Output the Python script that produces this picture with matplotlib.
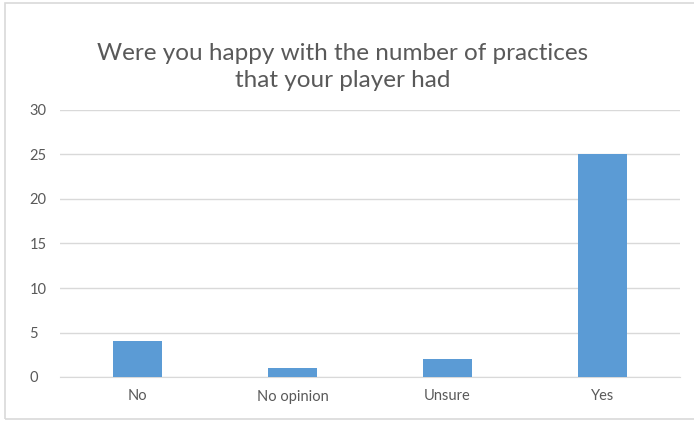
import matplotlib
matplotlib.use("Agg")
import matplotlib.pyplot as plt
from matplotlib.patches import Rectangle

categories = ["No", "No opinion", "Unsure", "Yes"]
counts = [4, 1, 2, 25]
yticks = [0, 5, 10, 15, 20, 25, 30]
title = "Were you happy with the number of practices\nthat your player had"

plt.rcParams['font.family'] = ['Lato', 'DejaVu Sans']

fig = plt.figure(figsize=(6.94, 4.22), dpi=100)
# chart border
fig.patches.append(Rectangle((5 / 694, 3 / 422), 1.0, 416 / 422, transform=fig.transFigure,
                             fill=False, edgecolor="#D9D9D9", linewidth=1.2))

ax = fig.add_axes([60 / 694, 45 / 422, 620 / 694, 267 / 422])
x = range(len(categories))
ax.bar(x, counts, width=0.32, color="#5B9BD5", zorder=3)
ax.set_xlim(-0.5, len(categories) - 0.5)
ax.set_ylim(0, 30)
ax.set_yticks(yticks)
ax.set_xticks(list(x))
ax.set_xticklabels(categories)
ax.grid(axis="y", color="#D9D9D9", linewidth=1, zorder=0)
for s in ["top", "right", "left"]:
    ax.spines[s].set_visible(False)
ax.spines["bottom"].set_color("#D9D9D9")
ax.tick_params(axis="both", length=0, colors="#595959", labelsize=10.5)
ax.tick_params(axis="x", pad=9)
for lbl in ax.get_yticklabels():
    lbl.set_horizontalalignment("left")
ax.yaxis.set_tick_params(pad=22)

fig.text(343 / 694, 1 - 67 / 422, title, ha="center", va="center",
         fontsize=17.5, color="#595959", linespacing=1.3)

fig.savefig("out.png", dpi=100)
